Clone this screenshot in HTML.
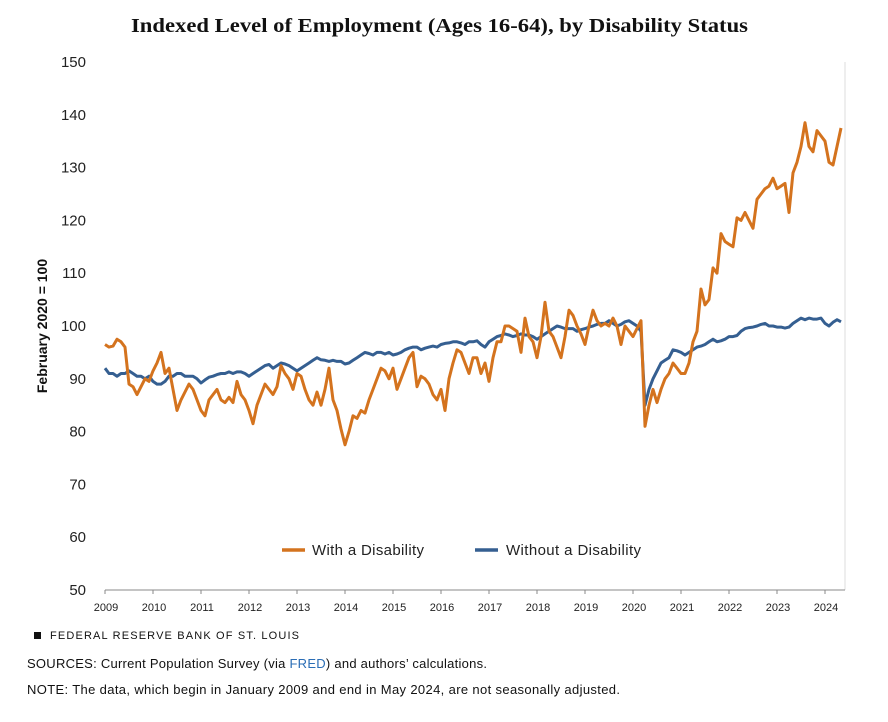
<!DOCTYPE html>
<html><head><meta charset="utf-8"><style>
body{margin:0;background:#fff;width:888px;height:722px;overflow:hidden;font-family:"Liberation Sans",sans-serif}
svg{position:absolute;left:0;top:0}
</style></head><body>
<svg width="888" height="722" id="chart">
<text x="131" y="32" textLength="617" lengthAdjust="spacingAndGlyphs" font-family="Liberation Serif" font-weight="bold" font-size="20.5" fill="#111">Indexed Level of Employment (Ages 16-64), by Disability Status</text>
<g id="axes"></g>
<g id="series"></g>
<text transform="translate(47,326) rotate(-90)" text-anchor="middle" font-weight="bold" font-size="14" fill="#111">February 2020 = 100</text>
<g>
<line x1="282" y1="550" x2="305" y2="550" stroke="#d4731e" stroke-width="3.5"/>
<text x="312" y="555" textLength="112" font-size="15" fill="#222">With a Disability</text>
<line x1="475" y1="550" x2="498" y2="550" stroke="#355f91" stroke-width="3.5"/>
<text x="506" y="555" textLength="135" font-size="15" fill="#222">Without a Disability</text>
</g>
<rect x="34" y="632" width="7" height="7" fill="#111"/>
<text x="50" y="639" textLength="250" font-size="11" letter-spacing="1" fill="#111">FEDERAL RESERVE BANK OF ST. LOUIS</text>
<text x="27" y="668" textLength="460" font-size="13" fill="#111">SOURCES: Current Population Survey (via <tspan fill="#2a6db5">FRED</tspan>) and authors’ calculations.</text>
<text x="27" y="694" textLength="593" font-size="13" fill="#111">NOTE: The data, which begin in January 2009 and end in May 2024, are not seasonally adjusted.</text>
</svg>
<script>
const yTicks=[50,60,70,80,90,100,110,120,130,140,150];
const xYears=[2009,2010,2011,2012,2013,2014,2015,2016,2017,2018,2019,2020,2021,2022,2023,2024];
const withDisability=[96.5,96,96.2,97.5,97,96,89,88.5,87,88.5,90,89.5,
91.5,93,95,91,92,88,84,86,87.5,89,88,86,
84,83,86,87,88,86,85.5,86.5,85.5,89.5,87,86,
84,81.5,85,87,89,88,87,88.5,92.5,91,90,88,
91,90.5,88,86,85,87.5,85,88,92,86,84,80.5,
77.5,80,83,82.5,84,83.5,86,88,90,92,91.5,90,
92,88,90,92,94,95,88.5,90.5,90,89,87,86,
88,84,90,93,95.5,95,93,91,94,94,91,93,
89.5,94,97,97,100,100,99.5,99,95,101.5,98,97,
94,98,104.5,99,98,96,94,98,103,102,100,98.5,
96.5,100,103,101,100,100.5,100,101.5,100,96.5,100,99,
98,99.5,101,81,85,88,85.5,88,90,91,93,92,
91,91,93,97,99,107,104,105,111,110,117.5,116,
115.5,115,120.5,120,121.5,120,118.5,124,125,126,126.5,128,
126,126.5,127,121.5,129,131,134,138.5,134,133,137,136,
135,131,130.5,134,137.5];
const withoutDisability=[92,91,91,90.5,91,91,91.5,91,90.5,90.5,90,90.5,
89.5,89,89,89.5,90.5,90.5,91,91,90.5,90.5,90.5,90,
89.2,89.8,90.3,90.5,90.8,91,91,91.3,91,91.3,91.3,91,
90.5,91,91.5,92,92.5,92.7,92,92.5,93,92.8,92.5,92,
91.5,92,92.5,93,93.5,94,93.6,93.5,93.3,93.5,93.3,93.3,
92.8,93,93.5,94,94.5,95,94.8,94.5,95,95,94.7,95,
94.5,94.7,95,95.5,95.8,96,96,95.5,95.8,96,96.2,96,
96.5,96.7,96.8,97,97,96.8,96.5,97,97,97.2,96.5,96,
97,97.5,98,98.2,98.5,98.3,98,98.2,98.5,98.3,98.3,98,
97.5,98,98.5,99,99.5,100,99.8,99.5,99.5,99.5,99,99.3,
99.5,99.8,100,100.3,100.5,100.5,101,100.5,100,100.3,100.8,101,
100.5,100,99,85,88,90,91.5,93,93.5,94,95.5,95.3,
95,94.5,95,95.5,96,96.2,96.5,97,97.5,97,97.2,97.5,
98,98,98.2,99,99.5,99.7,99.8,100,100.3,100.5,100,100,
99.8,99.8,99.6,99.8,100.5,101,101.5,101.2,101.5,101.3,101.3,101.5,
100.5,100,100.7,101.2,100.8];
const NS='http://www.w3.org/2000/svg';
const X0=105,PX_PER_MONTH=4,Y_BASE=590,PX_PER_UNIT=5.28;
function xScale(i){return X0+i*PX_PER_MONTH;}
function yScale(v){return Y_BASE-(v-50)*PX_PER_UNIT;}
function mk(tag,attrs,parent){const e=document.createElementNS(NS,tag);for(const k in attrs)e.setAttribute(k,attrs[k]);parent.appendChild(e);return e;}
const axes=document.getElementById('axes');
mk('line',{x1:845,y1:62,x2:845,y2:590,stroke:'#ddd','stroke-width':1},axes);
yTicks.forEach(v=>{const t=mk('text',{x:86,y:yScale(v)+5,'text-anchor':'end','font-size':15,fill:'#222'},axes);t.textContent=v;

});
const base=mk('line',{x1:105,y1:590,x2:845,y2:590,stroke:'#888','stroke-width':1},axes);


xYears.forEach((yr,k)=>{const x=xScale(k*12);
mk('line',{x1:x,y1:590,x2:x,y2:594,stroke:'#888'},axes);
const t=mk('text',{x:x+1,y:611,'text-anchor':'middle','font-size':11,fill:'#222'},axes);t.textContent=yr;

});
const ser=document.getElementById('series');
function line(data,color,name){const d=data.map((v,i)=>(i?'L':'M')+xScale(i).toFixed(1)+','+yScale(v).toFixed(1)).join('');
const p=mk('path',{d:d,fill:'none',stroke:color,'stroke-width':3,'stroke-linejoin':'round'},ser);

}
line(withoutDisability,'#355f91','line-without-disability');
line(withDisability,'#d4731e','line-with-disability');
</script>
</body></html>
